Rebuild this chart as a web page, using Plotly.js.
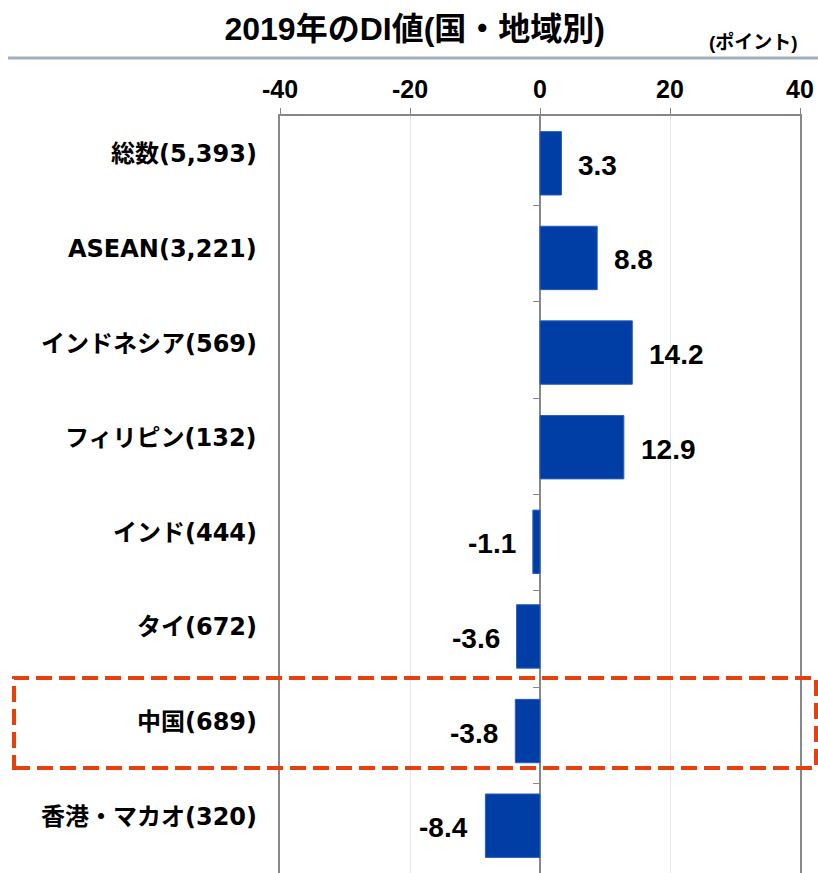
<!DOCTYPE html>
<html>
<head>
<meta charset="utf-8">
<script src="https://cdn.plot.ly/plotly-3.0.1.min.js"></script>
<style>html,body{margin:0;padding:0;background:#fff;}#chart{width:818px;height:873px;}</style>
</head>
<body>
<div id="chart"></div>
<script>
const categories = ['総数(5,393)','ASEAN(3,221)','インドネシア(569)','フィリピン(132)','インド(444)','タイ(672)','中国(689)','香港・マカオ(320)'];
const values = [3.3, 8.8, 14.2, 12.9, -1.1, -3.6, -3.8, -8.4];
const xTickVals = [-40, -20, 0, 20, 40];
const xTickText = ['-40', '-20', '0', '20', '40'];
const titleText = '2019年のDI値(国・地域別)';
const unitText = '(ポイント)';

const narrow = 'Liberation Sans Narrow, Arial Narrow, Liberation Sans, Noto Sans CJK JP, sans-serif';
const labelFont = 'DejaVu Sans, Verdana, Noto Sans CJK JP, sans-serif';

const traces = [
  {
    type: 'bar', orientation: 'h', x: values, y: categories,
    width: 0.67,
    marker: {color: '#003DA5', line: {color: '#2a5fbf', width: 1}},
    hoverinfo: 'skip', showlegend: false
  },
  {
    type: 'scatter', mode: 'markers', x: categories.map(() => 0), y: categories,
    yaxis: 'y2', marker: {opacity: 0}, hoverinfo: 'skip', showlegend: false
  }
];

const annotations = values.map((v, i) => ({
  x: v, y: categories[i], xref: 'x', yref: 'y',
  text: v.toFixed(1), showarrow: false,
  xanchor: v >= 0 ? 'left' : 'right',
  xshift: v >= 0 ? 15 : -15, yshift: -2,
  font: {family: narrow, size: 28, weight: 'bold', color: '#000'}
}));
categories.forEach(c => annotations.push({
  x: 0, y: c, xref: 'paper', yref: 'y', xanchor: 'right', yanchor: 'middle',
  xshift: -21, yshift: 9, text: c, showarrow: false,
  font: {family: labelFont, size: 24, weight: 'bold', color: '#000'}
}));
annotations.push({
  x: 1.0, y: 1.0978, xref: 'paper', yref: 'paper', xanchor: 'right', yanchor: 'middle',
  text: unitText, showarrow: false,
  font: {family: narrow, size: 19, weight: 'bold', color: '#000'}
});

const layout = {
  width: 818, height: 873,
  margin: {l: 280, r: 18, t: 116, b: 0, pad: 0},
  paper_bgcolor: '#fff', plot_bgcolor: '#fff',
  title: {
    text: titleText, x: 0.507, xanchor: 'center', y: 1 - 29/873, yanchor: 'middle', yref: 'container',
    font: {family: narrow, size: 32, weight: 'bold', color: '#000'}
  },
  xaxis: {
    side: 'top', range: [-40, 40], tickvals: xTickVals, ticktext: xTickText,
    ticks: 'outside', ticklen: 6, tickwidth: 1, tickcolor: '#888',
    showline: true, linecolor: '#888', linewidth: 2,
    showgrid: true, gridcolor: '#e4e6ee', gridwidth: 1,
    zeroline: true, zerolinecolor: '#888', zerolinewidth: 2,
    tickfont: {family: narrow, size: 25, weight: 'bold', color: '#000'},
    fixedrange: true
  },
  yaxis: {
    type: 'category', autorange: 'reversed', categoryarray: categories,
    showline: true, mirror: true, linecolor: '#888', linewidth: 2,
    showgrid: false, zeroline: false, ticks: '', showticklabels: false,
    fixedrange: true
  },
  yaxis2: {
    type: 'category', autorange: 'reversed', categoryarray: categories,
    overlaying: 'y', anchor: 'free', position: 0.5, side: 'left',
    ticks: 'outside', ticklen: 7, tickwidth: 1, tickcolor: '#888', tickson: 'boundaries',
    showticklabels: false, showgrid: false, showline: false, zeroline: false,
    fixedrange: true
  },
  shapes: [
    {type: 'line', xref: 'paper', yref: 'paper', x0: -0.523, x1: 1.0346, y0: 1.0766, y1: 1.0766,
     line: {color: '#a3adc0', width: 3}},
    {type: 'rect', xref: 'paper', yref: 'paper', x0: -0.5115, x1: 1.0308, y0: 0.1387, y1: 0.2576,
     line: {color: '#E8400C', width: 4, dash: '16px,7px'}, fillcolor: 'rgba(0,0,0,0)'}
  ],
  annotations: annotations,
  showlegend: false
};

Plotly.newPlot('chart', traces, layout, {displayModeBar: false, staticPlot: true});
</script>
</body>
</html>
